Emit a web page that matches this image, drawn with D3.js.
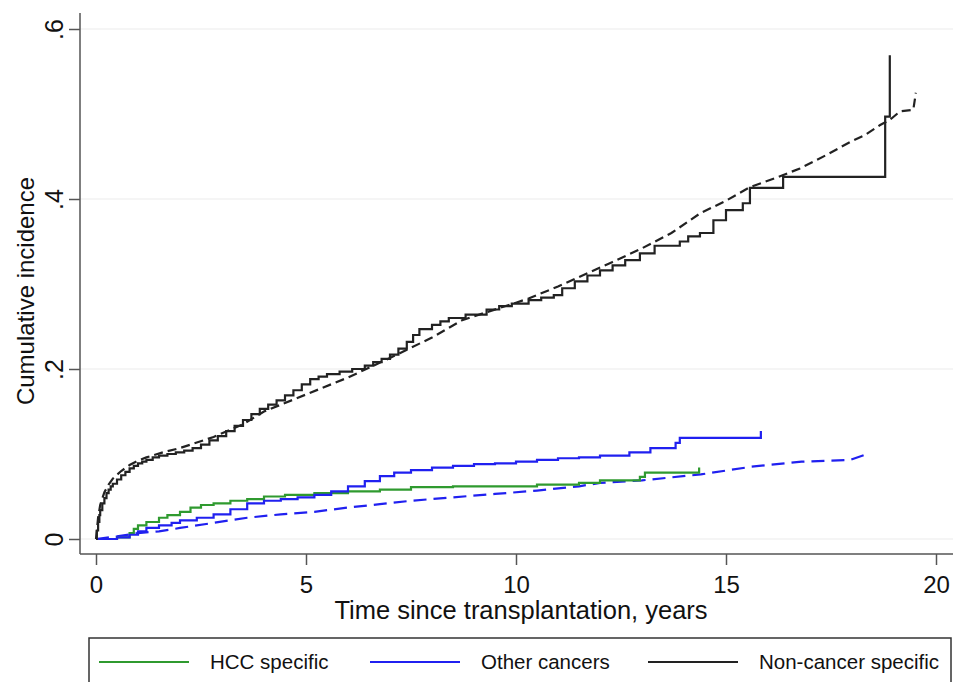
<!DOCTYPE html>
<html>
<head>
<meta charset="utf-8">
<style>
  body { margin: 0; background: #fff; }
  svg text { font-family: Arial, "Liberation Sans", sans-serif; fill: #111; }
  .grid line { stroke: #ebebeb; stroke-width: 1.2px; }
  .series { fill: none; stroke-width: 2.2px; }
</style>
<script src="https://d3js.org/d3.v7.min.js"></script>
</head>
<body>
<svg width="953" height="682"></svg>
<script>
// [years, cumulative incidence]
var hccObs = [[0,0],[0.5,0.002],[0.8,0.007],[0.9,0.012],[1.0,0.016],[1.2,0.02],[1.5,0.025],[1.7,0.028],
  [2.0,0.032],[2.25,0.037],[2.5,0.04],[2.8,0.042],[3.2,0.045],[3.6,0.047],[4.0,0.05],[4.5,0.052],
  [5.2,0.054],[6.0,0.056],[6.76,0.058],[7.5,0.061],[8.5,0.062],[9.5,0.062],[10.5,0.064],[11.5,0.066],
  [12.0,0.069],[12.95,0.073],[13.07,0.078],[14.36,0.084]];

var otherObs = [[0,0],[0.5,0.002],[0.8,0.005],[1.0,0.009],[1.2,0.013],[1.5,0.016],[1.8,0.019],[2.0,0.022],
  [2.4,0.025],[2.8,0.029],[3.2,0.035],[3.6,0.042],[4.0,0.045],[4.4,0.047],[4.8,0.049],[5.2,0.052],
  [5.6,0.056],[6.0,0.062],[6.4,0.068],[6.76,0.074],[7.1,0.078],[7.5,0.081],[8.0,0.084],[8.5,0.086],
  [9.0,0.088],[9.5,0.089],[10.0,0.091],[10.5,0.093],[11.0,0.095],[11.5,0.096],[12.0,0.098],[12.7,0.102],
  [13.2,0.107],[13.8,0.113],[13.9,0.119],[15.83,0.127]];

var otherPred = [[0,0],[0.5,0.003],[1.0,0.007],[1.5,0.009],[2.0,0.013],[2.8,0.019],[3.6,0.025],[4.4,0.029],
  [5.2,0.032],[6.0,0.037],[6.76,0.041],[7.5,0.045],[8.5,0.049],[9.5,0.053],[10.5,0.057],[11.5,0.062],
  [12.0,0.066],[13.0,0.069],[14.4,0.076],[15.6,0.085],[16.8,0.091],[17.95,0.093],[18.3,0.099]];

var nonCancerObs = [[0,0],[0.02,0.01],[0.05,0.02],[0.08,0.028],[0.1,0.034],[0.15,0.042],[0.2,0.048],
  [0.25,0.054],[0.3,0.058],[0.35,0.062],[0.4,0.065],[0.5,0.07],[0.6,0.075],[0.7,0.079],[0.8,0.083],
  [0.9,0.086],[1.0,0.089],[1.1,0.091],[1.2,0.093],[1.35,0.096],[1.5,0.098],[1.7,0.1],[1.9,0.102],
  [2.1,0.104],[2.3,0.107],[2.5,0.111],[2.7,0.116],[2.9,0.121],[3.1,0.127],[3.3,0.133],[3.5,0.14],
  [3.7,0.147],[3.9,0.153],[4.1,0.158],[4.3,0.163],[4.5,0.169],[4.7,0.175],[4.9,0.182],[5.1,0.188],
  [5.3,0.191],[5.5,0.194],[5.8,0.197],[6.1,0.2],[6.4,0.204],[6.6,0.208],[6.8,0.212],[7.0,0.217],
  [7.2,0.224],[7.4,0.232],[7.55,0.24],[7.7,0.247],[8.0,0.252],[8.2,0.256],[8.4,0.26],[8.8,0.264],
  [9.3,0.27],[9.6,0.274],[9.9,0.277],[10.3,0.281],[10.6,0.284],[10.9,0.287],[11.1,0.295],[11.4,0.303],
  [11.7,0.31],[12.0,0.316],[12.3,0.322],[12.6,0.328],[12.95,0.336],[13.3,0.345],[13.9,0.35],[14.1,0.356],
  [14.38,0.36],[14.7,0.375],[15.0,0.387],[15.4,0.395],[15.57,0.413],[16.36,0.426],[18.79,0.497],[18.9,0.569]];

var nonCancerPred = [[0,0],[0.05,0.025],[0.1,0.04],[0.2,0.055],[0.3,0.064],[0.4,0.071],[0.6,0.08],[0.8,0.087],
  [1.0,0.092],[1.2,0.096],[1.6,0.102],[2.0,0.107],[2.8,0.12],[3.5,0.135],[4.0,0.15],[5.0,0.17],[6.0,0.19],
  [7.0,0.213],[8.0,0.237],[8.7,0.257],[9.0,0.262],[10.0,0.278],[10.3,0.283],[11.0,0.297],[12.3,0.326],
  [13.0,0.342],[13.7,0.36],[14.38,0.383],[15.0,0.398],[15.57,0.414],[16.2,0.425],[16.76,0.436],[17.4,0.452],
  [17.95,0.467],[18.3,0.475],[18.67,0.487],[18.9,0.493],[19.14,0.503],[19.46,0.505],[19.52,0.525]];

var xTicks = [0, 5, 10, 15, 20];
var yTicks = [0, 0.2, 0.4, 0.6];
var legendLabels = ["HCC specific", "Other cancers", "Non-cancer specific"];
var legendColors = ["#2f9a2f", "#2020f0", "#222222"];

var svg = d3.select("svg");
var x = d3.scaleLinear().domain([0, 20]).range([96, 936]);
var y = d3.scaleLinear().domain([0, 0.6]).range([539, 29]);
var axisX = 80, axisY = 554;

// gridlines
svg.append("g").attr("class", "grid").selectAll("line")
  .data(yTicks).enter().append("line")
  .attr("x1", axisX).attr("x2", 953)
  .attr("y1", function(d) { return y(d); })
  .attr("y2", function(d) { return y(d); });

// axes
var yAxis = svg.append("g")
  .attr("transform", "translate(" + axisX + ",0)")
  .call(d3.axisLeft(y).tickValues(yTicks).tickSize(11)
    .tickFormat(function(d) { return d === 0 ? "0" : d3.format(".1f")(d).replace(/^0/, ""); }));
yAxis.select(".domain").remove();
yAxis.selectAll(".tick line").attr("stroke", "#555").attr("stroke-width", 1.5);
yAxis.selectAll(".tick text")
  .attr("x", null).attr("dy", null)
  .attr("transform", "translate(-17,0) rotate(-90)")
  .attr("text-anchor", "middle")
  .style("font-size", "25px");

var xAxis = svg.append("g")
  .attr("transform", "translate(0," + axisY + ")")
  .call(d3.axisBottom(x).tickValues(xTicks).tickSize(11));
xAxis.select(".domain").remove();
xAxis.selectAll(".tick line").attr("stroke", "#555").attr("stroke-width", 1.5);
xAxis.selectAll(".tick text").attr("y", 39).attr("dy", null).style("font-size", "24px");

svg.append("line").attr("x1", axisX).attr("x2", axisX).attr("y1", 13).attr("y2", axisY)
  .attr("stroke", "#555").attr("stroke-width", 1.5);
svg.append("line").attr("x1", axisX).attr("x2", 953).attr("y1", axisY).attr("y2", axisY)
  .attr("stroke", "#555").attr("stroke-width", 1.5);

// axis titles
svg.append("text").attr("transform", "translate(34,291) rotate(-90)")
  .attr("text-anchor", "middle").style("font-size", "24px").text("Cumulative incidence");
svg.append("text").attr("x", 521).attr("y", 619)
  .attr("text-anchor", "middle").style("font-size", "25.5px").text("Time since transplantation, years");

// series
var stepLine = d3.line().x(function(d) { return x(d[0]); }).y(function(d) { return y(d[1]); }).curve(d3.curveStepAfter);
var plainLine = d3.line().x(function(d) { return x(d[0]); }).y(function(d) { return y(d[1]); });

var series = [
  {data: otherPred, color: legendColors[1], dash: "13,7", gen: plainLine},
  {data: hccObs, color: legendColors[0], dash: null, gen: stepLine},
  {data: otherObs, color: legendColors[1], dash: null, gen: stepLine},
  {data: nonCancerPred, color: legendColors[2], dash: "9,5", gen: plainLine},
  {data: nonCancerObs, color: legendColors[2], dash: null, gen: stepLine}
];
svg.append("g").selectAll("path").data(series).enter().append("path")
  .attr("class", "series")
  .attr("d", function(d) { return d.gen(d.data); })
  .attr("stroke", function(d) { return d.color; })
  .attr("stroke-dasharray", function(d) { return d.dash; });

// legend
svg.append("rect").attr("x", 89).attr("y", 638).attr("width", 862).attr("height", 60)
  .attr("fill", "#fff").attr("stroke", "#333").attr("stroke-width", 1.5);
var legendX = [99, 370, 648];
var item = svg.append("g").selectAll("g").data(legendLabels).enter().append("g")
  .attr("transform", function(d, i) { return "translate(" + legendX[i] + ",662)"; });
item.append("line").attr("x1", 0).attr("x2", 90)
  .attr("stroke", function(d, i) { return legendColors[i]; }).attr("stroke-width", 2.2);
item.append("text").attr("x", 111).attr("y", 7).style("font-size", "20.5px")
  .text(function(d) { return d; });
</script>
</body>
</html>
